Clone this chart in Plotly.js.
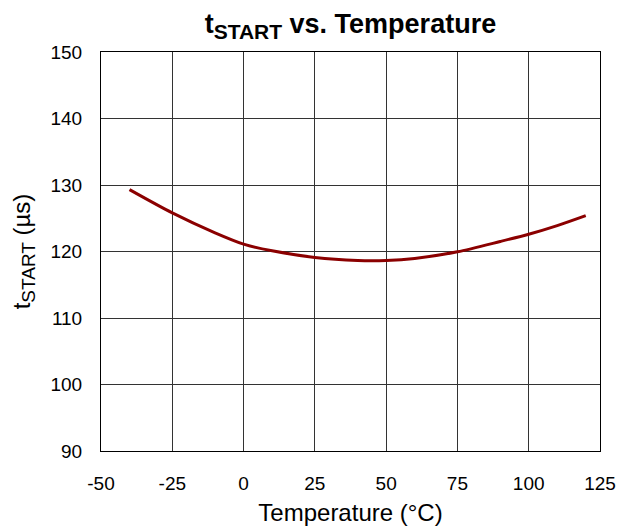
<!DOCTYPE html>
<html>
<head>
<meta charset="utf-8">
<script src="https://cdn.plot.ly/plotly-3.0.1.min.js"></script>
<style>html,body{margin:0;padding:0;background:#fff;}#chart{width:618px;height:531px;}</style>
</head>
<body>
<div id="chart"></div>
<script>
const temperature = [-40, -25, -10, 0, 10, 25, 40, 50, 60, 75, 90, 100, 110, 120];
const tStart = [129.3, 125.8, 122.8, 121.1, 120.1, 119.1, 118.65, 118.65, 118.95, 119.95, 121.5, 122.6, 123.9, 125.4];
const xTicks = [-50, -25, 0, 25, 50, 75, 100, 125];
const yTicks = [90, 100, 110, 120, 130, 140, 150];

const font = 'Liberation Sans, Arial, sans-serif';
Plotly.newPlot('chart', [{
  x: temperature, y: tStart, type: 'scatter', mode: 'lines',
  line: {color: '#8b0000', width: 3, shape: 'spline', smoothing: 0.8},
  hoverinfo: 'skip'
}], {
  width: 618, height: 531,
  margin: {l: 101, r: 18, t: 52, b: 80},
  paper_bgcolor: '#fff', plot_bgcolor: '#fff',
  showlegend: false,
  font: {family: font, color: '#000'},
  title: {text: '<b>t<sub><span style="font-size:21px">START</span></sub> vs. Temperature</b>', font: {size: 27, family: font, color: '#000'}, x: 0.567, xanchor: 'center', y: 0.955, yanchor: 'middle'},
  xaxis: {
    range: [-50, 125], tickvals: xTicks, ticktext: xTicks.map(String),
    showgrid: true, gridcolor: '#333', gridwidth: 1,
    showline: true, linecolor: '#000', linewidth: 1, mirror: true, zeroline: false,
    ticks: 'outside', ticklen: 15, tickcolor: 'rgba(0,0,0,0)',
    tickfont: {size: 19, family: font},
    title: {text: 'Temperature (°C)', font: {size: 24, family: font}, standoff: 11}
  },
  yaxis: {
    range: [90, 150], tickvals: yTicks, ticktext: yTicks.map(String),
    showgrid: true, gridcolor: '#333', gridwidth: 1,
    showline: true, linecolor: '#000', linewidth: 1, mirror: true, zeroline: false,
    ticks: 'outside', ticklen: 14, tickcolor: 'rgba(0,0,0,0)',
    tickfont: {size: 19, family: font},
    title: {text: 't<sub><span style="font-size:19px">START</span></sub> (µs)', font: {size: 24, family: font}, standoff: 13}
  }
}, {staticPlot: true});
</script>
</body>
</html>
